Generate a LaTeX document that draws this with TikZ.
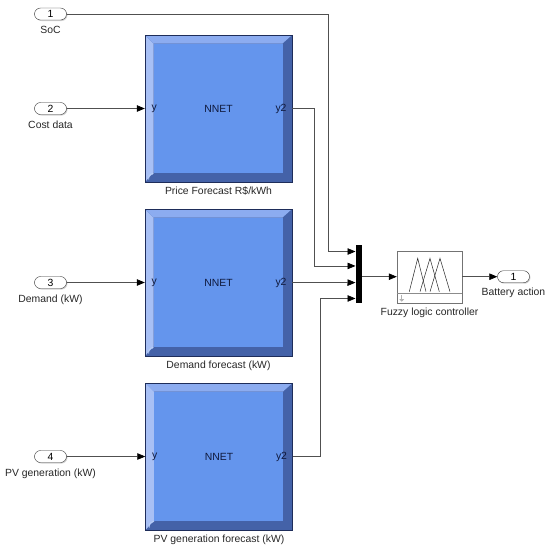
\documentclass[tikz,border=0pt]{standalone}
\usepackage{fontspec}
\setmainfont{Liberation Sans}
\usetikzlibrary{arrows.meta,positioning,calc,shadows}

\definecolor{nnface}{RGB}{100,149,237}
\definecolor{nnlight}{RGB}{168,192,245}
\definecolor{nntop}{RGB}{140,172,240}
\definecolor{nndark}{RGB}{68,98,168}
\definecolor{nnedge}{RGB}{30,45,90}
\definecolor{nntext}{RGB}{15,25,60}
\definecolor{wirecol}{RGB}{80,80,80}

\tikzset{
  lbl/.style={font=\fontsize{10.4}{12}\selectfont, text=black!85},
  port/.style={draw=black!80, fill=white, rounded corners=6pt, minimum width=32pt,
    minimum height=12pt, inner sep=0pt, font=\fontsize{10.4}{12}\selectfont,
    drop shadow={shadow xshift=1pt,shadow yshift=-1pt,opacity=0.35}},
  nnet/.style={draw=nnedge, fill=nndark, minimum width=147pt, minimum height=147pt,
    inner sep=0pt, text=nntext, font=\fontsize{10.4}{12}\selectfont,
    path picture={
      \fill[nnlight] (path picture bounding box.south west) -- (path picture bounding box.north west)
        -- ([shift={(8.5pt,-8.5pt)}]path picture bounding box.north west)
        -- ([shift={(8.5pt,9.5pt)}]path picture bounding box.south west) -- cycle;
      \fill[nntop] (path picture bounding box.north west) -- (path picture bounding box.north east)
        -- ([shift={(-9.5pt,-8.5pt)}]path picture bounding box.north east)
        -- ([shift={(8.5pt,-8.5pt)}]path picture bounding box.north west) -- cycle;
      \fill[nnface] ([shift={(8.5pt,9.5pt)}]path picture bounding box.south west)
        rectangle ([shift={(-9.5pt,-8.5pt)}]path picture bounding box.north east);
    }},
  nnpin/.style={inner sep=0pt, text=nntext, font=\fontsize{10.4}{12}\selectfont},
  wire/.style={draw=wirecol, line width=0.7pt},
  sig/.style={wire, -{Triangle[length=8pt,width=6.5pt,color=black]}},
}

\begin{document}
\begin{tikzpicture}[x=1pt,y=-1pt]
\useasboundingbox (0,0) rectangle (550,550);

% inports
\node[port] (in1) at (50.5,14) {1};
\node[lbl, below=3pt of in1] (in1lbl) {SoC};

\node[port] (in2) at (50.5,108.5) {2};
\node[lbl, below=3pt of in2] (in2lbl) {Cost data};

\node[port] (in3) at (50.5,282.5) {3};
\node[lbl, below=3pt of in3] (in3lbl) {Demand (kW)};

\node[port] (in4) at (50.5,456.5) {4};
\node[lbl, below=3pt of in4] (in4lbl) {PV generation (kW)};

% top net
\node[nnet] (nnet1) at (218.5,108.5) {NNET};
\node[nnpin, anchor=west] (nnet1y) at ([xshift=6.5pt]nnet1.west) {y};
\node[nnpin, anchor=east] (nnet1yy) at ([xshift=-5.5pt]nnet1.east) {y2};
\node[lbl, below=1.5pt of nnet1] (nnet1lbl) {Price Forecast R\$/kWh};

% middle net
\node[nnet] (nnet2) at (218.5,282.5) {NNET};
\node[nnpin, anchor=west] (nnet2y) at ([xshift=6.5pt]nnet2.west) {y};
\node[nnpin, anchor=east] (nnet2yy) at ([xshift=-5.5pt]nnet2.east) {y2};
\node[lbl, below=1.5pt of nnet2] (nnet2lbl) {Demand forecast (kW)};

% bottom net
\node[nnet] (nnet3) at (219,456.5) {NNET};
\node[nnpin, anchor=west] (nnet3y) at ([xshift=6.5pt]nnet3.west) {y};
\node[nnpin, anchor=east] (nnet3yy) at ([xshift=-5.5pt]nnet3.east) {y2};
\node[lbl, below=1.5pt of nnet3] (nnet3lbl) {PV generation forecast (kW)};

% little link marks
\foreach \b in {nnet1,nnet2,nnet3}
  \draw[white!55!nnface, line width=0.8pt, -{Stealth[length=2.5pt]}]
    ([shift={(4pt,2.5pt)}]\b.south west) .. controls ([shift={(4pt,7pt)}]\b.south west) .. ([shift={(9pt,9pt)}]\b.south west);

% mux
\node[fill=black, minimum width=6pt, minimum height=58pt, inner sep=0pt] (mux) at (358.7,274) {};
\coordinate (mx1) at ($(mux.north west)!0.115!(mux.south west)$);
\coordinate (mx2) at ($(mux.north west)!0.362!(mux.south west)$);
\coordinate (mx3) at ($(mux.north west)!0.647!(mux.south west)$);
\coordinate (mx4) at ($(mux.north west)!0.919!(mux.south west)$);

% fuzzy block
\node[draw=black!55, fill=white, minimum width=65pt, minimum height=52pt, inner sep=0pt] (flc) at (429.5,276.7) {};
\draw[black!45] ([yshift=10pt]flc.south west) -- ([yshift=10pt]flc.south east);
\begin{scope}[shift={(flc.center)}]
\draw[black!85, line width=0.5pt] (-20.2,15) -- (-11.8,-18.4) -- (-3.5,15);
\draw[black!85, line width=0.5pt] (-9.5,15) -- (0.5,-18.4) -- (9.8,15);
\draw[black!85, line width=0.5pt] (0.5,15) -- (10.5,-18.4) -- (20.5,15);
\draw[black!30, line width=1.5pt, -{Triangle[length=2.5pt,width=4.5pt]}] (-27.8,18.5) -- (-27.8,25);
\end{scope}
\node[lbl, below=2pt of flc] (flclbl) {Fuzzy logic controller};

% outport
\node[port] (out1) at (513.5,276.7) {1};
\node[lbl, below=2pt of out1] (out1lbl) {Battery action};

% wires
\draw[sig] (in2.east) -- (nnet1.west);
\draw[sig] (in3.east) -- (nnet2.west);
\draw[sig] (in4.east) -- (nnet3.west);

\draw[sig] (in1.east) -| ([xshift=-27pt]mx1) -- (mx1);
\draw[sig] (nnet1.east) -| ([xshift=-41pt]mx2) -- (mx2);
\draw[sig] (nnet2.east) -- (mx3);
\draw[sig] (nnet3.east) -| ([xshift=-35pt]mx4) -- (mx4);

\draw[sig] (mux.east |- flc.west) -- (flc.west);
\draw[sig] (flc.east) -- (out1.west);

\end{tikzpicture}
\end{document}
